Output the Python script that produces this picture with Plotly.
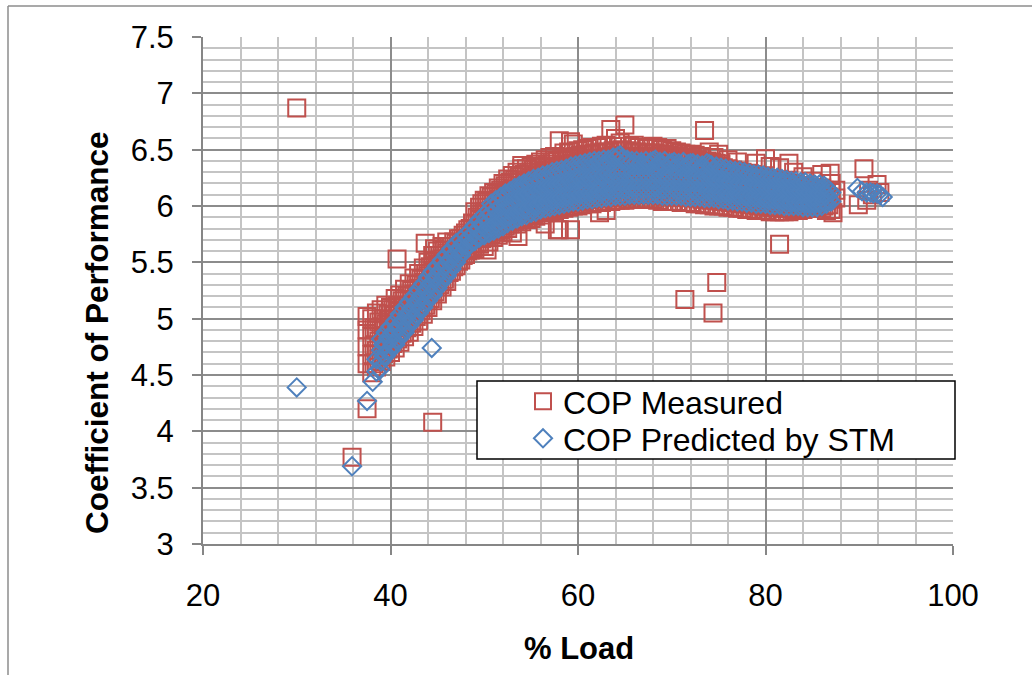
import plotly.graph_objects as go

# ---- COP Measured (% load, COP) : outliers + band, read row by row ----
measured_load = [
    30.0, 35.9, 37.5, 44.5, 40.7, 43.7, 44.7, 71.4, 74.4, 74.8, 81.5,
    50.3, 53.6, 57.8, 59.2, 59.2, 54.0, 62.3, 86.9, 87.2,
    89.9, 90.5, 90.8, 91.0, 91.4, 91.9, 92.2,
    37.5, 37.5, 37.5, 37.5,
    38.0, 38.0, 38.0, 38.0,
    38.5, 38.5, 38.5, 38.5,
    39.0, 39.0, 39.0, 39.0,
    39.5, 39.5, 39.5, 39.5,
    40.0, 40.0, 40.0, 40.0,
    40.5, 40.5, 40.5, 40.5,
    41.0, 41.0, 41.0, 41.0,
    41.5, 41.5, 41.5, 41.5,
    42.0, 42.0, 42.0, 42.0,
    42.5, 42.5, 42.5, 42.5,
    43.0, 43.0, 43.0, 43.0,
    43.5, 43.5, 43.5, 43.5,
    44.0, 44.0, 44.0, 44.0,
    44.5, 44.5, 44.5, 44.5,
    45.0, 45.0, 45.0, 45.0,
    45.5, 45.5, 45.5, 45.5,
    46.0, 46.0, 46.0, 46.0,
    46.5, 46.5, 46.5,
    47.0, 47.0, 47.0,
    47.5, 47.5, 47.5,
    48.0, 48.0, 48.0,
    48.5, 48.5, 48.5,
    49.0, 49.0, 49.0, 49.0,
    49.5, 49.5, 49.5, 49.5,
    50.0, 50.0, 50.0, 50.0, 50.0,
    50.5, 50.5, 50.5, 50.5, 50.5,
    51.0, 51.0, 51.0, 51.0, 51.0,
    51.5, 51.5, 51.5, 51.5, 51.5,
    52.0, 52.0, 52.0, 52.0, 52.0,
    52.5, 52.5, 52.5, 52.5, 52.5,
    53.0, 53.0, 53.0, 53.0, 53.0,
    53.5, 53.5, 53.5, 53.5, 53.5,
    54.0, 54.0, 54.0, 54.0, 54.0,
    54.5, 54.5, 54.5, 54.5, 54.5,
    55.0, 55.0, 55.0, 55.0, 55.0,
    55.5, 55.5, 55.5, 55.5, 55.5,
    56.0, 56.0, 56.0, 56.0, 56.0,
    56.5, 56.5, 56.5, 56.5, 56.5, 56.5,
    57.0, 57.0, 57.0, 57.0, 57.0,
    57.5, 57.5, 57.5, 57.5, 57.5,
    58.0, 58.0, 58.0, 58.0, 58.0, 58.0,
    58.5, 58.5, 58.5, 58.5, 58.5,
    59.0, 59.0, 59.0, 59.0, 59.0,
    59.5, 59.5, 59.5, 59.5, 59.5,
    60.0, 60.0, 60.0, 60.0, 60.0,
    60.5, 60.5, 60.5, 60.5, 60.5,
    61.0, 61.0, 61.0, 61.0, 61.0,
    61.5, 61.5, 61.5, 61.5, 61.5,
    62.0, 62.0, 62.0, 62.0, 62.0,
    62.5, 62.5, 62.5, 62.5, 62.5,
    63.0, 63.0, 63.0, 63.0, 63.0, 63.0,
    63.5, 63.5, 63.5, 63.5, 63.5,
    64.0, 64.0, 64.0, 64.0, 64.0,
    64.5, 64.5, 64.5, 64.5, 64.5,
    65.0, 65.0, 65.0, 65.0, 65.0,
    65.5, 65.5, 65.5, 65.5, 65.5,
    66.0, 66.0, 66.0, 66.0, 66.0,
    66.5, 66.5, 66.5, 66.5, 66.5,
    67.0, 67.0, 67.0, 67.0, 67.0,
    67.5, 67.5, 67.5, 67.5, 67.5,
    68.0, 68.0, 68.0, 68.0, 68.0,
    68.5, 68.5, 68.5, 68.5, 68.5,
    69.0, 69.0, 69.0, 69.0, 69.0,
    69.5, 69.5, 69.5, 69.5, 69.5,
    70.0, 70.0, 70.0, 70.0, 70.0,
    70.5, 70.5, 70.5, 70.5, 70.5,
    71.0, 71.0, 71.0, 71.0, 71.0,
    71.5, 71.5, 71.5, 71.5, 71.5,
    72.0, 72.0, 72.0, 72.0, 72.0,
    72.5, 72.5, 72.5, 72.5, 72.5,
    73.0, 73.0, 73.0, 73.0, 73.0,
    73.5, 73.5, 73.5, 73.5, 73.5,
    74.0, 74.0, 74.0, 74.0, 74.0,
    74.5, 74.5, 74.5, 74.5, 74.5,
    75.0, 75.0, 75.0, 75.0, 75.0,
    75.5, 75.5, 75.5, 75.5,
    76.0, 76.0, 76.0, 76.0, 76.0,
    76.5, 76.5, 76.5, 76.5,
    77.0, 77.0, 77.0, 77.0, 77.0,
    77.5, 77.5, 77.5, 77.5,
    78.0, 78.0, 78.0, 78.0,
    78.5, 78.5, 78.5, 78.5,
    79.0, 79.0, 79.0, 79.0, 79.0,
    79.5, 79.5, 79.5, 79.5,
    80.0, 80.0, 80.0, 80.0, 80.0,
    80.5, 80.5, 80.5, 80.5, 80.5,
    81.0, 81.0, 81.0, 81.0,
    81.5, 81.5, 81.5, 81.5, 81.5,
    82.0, 82.0, 82.0, 82.0,
    82.5, 82.5, 82.5, 82.5, 82.5,
    83.0, 83.0, 83.0, 83.0, 83.0,
    83.5, 83.5, 83.5, 83.5,
    84.0, 84.0, 84.0, 84.0, 84.0,
    84.5, 84.5, 84.5, 84.5,
    85.0, 85.0, 85.0, 85.0, 85.0,
    85.5, 85.5, 85.5, 85.5,
    86.0, 86.0, 86.0, 86.0, 86.0,
    86.5, 86.5, 86.5,
    87.0, 87.0, 87.0, 87.0,
    87.5, 87.5,
]
measured_cop = [
    6.87, 3.77, 4.20, 4.08, 5.53, 5.67, 5.62, 5.17, 5.05, 5.32, 5.66,
    5.61, 5.73, 5.79, 5.79, 6.57, 6.36, 5.94, 6.29, 5.94,
    6.01, 6.33, 6.05, 6.14, 6.10, 6.19, 6.12,
    4.60, 4.75, 4.90, 5.02,
    4.52, 4.68, 4.84, 5.00,
    4.57, 4.72, 4.90, 5.05,
    4.62, 4.76, 4.90, 5.08,
    4.66, 4.80, 4.95, 5.12,
    4.70, 4.84, 4.99, 5.10,
    4.74, 4.88, 5.03, 5.18,
    4.79, 4.93, 5.07, 5.21,
    4.84, 4.98, 5.12, 5.26,
    4.88, 5.02, 5.17, 5.31,
    4.93, 5.08, 5.22, 5.36,
    4.98, 5.12, 5.27, 5.40,
    5.04, 5.18, 5.32, 5.45,
    5.10, 5.24, 5.38, 5.50,
    5.16, 5.30, 5.43, 5.56,
    5.22, 5.35, 5.48, 5.60,
    5.28, 5.40, 5.53, 5.64,
    5.33, 5.46, 5.58, 5.68,
    5.42, 5.53, 5.64,
    5.47, 5.57, 5.67,
    5.52, 5.62, 5.71,
    5.57, 5.66, 5.76,
    5.61, 5.70, 5.80,
    5.62, 5.73, 5.84, 5.95,
    5.66, 5.77, 5.88, 5.99,
    5.64, 5.74, 5.84, 5.95, 6.05,
    5.68, 5.78, 5.88, 5.99, 6.09,
    5.72, 5.82, 5.92, 6.02, 6.12,
    5.74, 5.85, 5.96, 6.06, 6.16,
    5.77, 5.88, 5.99, 6.10, 6.20,
    5.80, 5.91, 6.02, 6.13, 6.24,
    5.76, 5.93, 6.04, 6.15, 6.27,
    5.84, 5.95, 6.06, 6.18, 6.30,
    5.86, 5.97, 6.09, 6.21, 6.33,
    5.88, 5.99, 6.11, 6.23, 6.33,
    5.89, 6.01, 6.13, 6.25, 6.35,
    5.91, 6.02, 6.14, 6.27, 6.37,
    5.92, 6.04, 6.16, 6.29, 6.39,
    5.84, 5.94, 6.06, 6.18, 6.31, 6.41,
    5.95, 6.07, 6.19, 6.32, 6.43,
    5.96, 6.08, 6.21, 6.34, 6.44,
    5.79, 5.97, 6.09, 6.22, 6.35, 6.58,
    5.98, 6.10, 6.23, 6.36, 6.47,
    5.99, 6.11, 6.24, 6.37, 6.48,
    6.00, 6.12, 6.25, 6.38, 6.55,
    6.00, 6.13, 6.26, 6.39, 6.49,
    6.01, 6.14, 6.27, 6.40, 6.50,
    6.02, 6.15, 6.28, 6.41, 6.51,
    6.02, 6.15, 6.28, 6.41, 6.52,
    6.03, 6.16, 6.29, 6.42, 6.52,
    6.03, 6.16, 6.29, 6.42, 6.53,
    5.96, 6.04, 6.17, 6.30, 6.43, 6.54,
    6.04, 6.17, 6.30, 6.44, 6.68,
    6.05, 6.18, 6.31, 6.44, 6.60,
    6.05, 6.18, 6.31, 6.44, 6.56,
    6.05, 6.18, 6.31, 6.44, 6.72,
    6.06, 6.19, 6.32, 6.44, 6.53,
    6.06, 6.19, 6.32, 6.44, 6.54,
    6.06, 6.19, 6.32, 6.44, 6.52,
    6.06, 6.19, 6.32, 6.44, 6.52,
    6.06, 6.19, 6.32, 6.44, 6.51,
    6.06, 6.19, 6.32, 6.44, 6.53,
    6.05, 6.18, 6.31, 6.43, 6.52,
    6.04, 6.18, 6.31, 6.43, 6.50,
    6.04, 6.17, 6.30, 6.42, 6.51,
    6.04, 6.17, 6.30, 6.42, 6.49,
    6.04, 6.16, 6.29, 6.41, 6.48,
    6.03, 6.16, 6.29, 6.41, 6.47,
    6.03, 6.16, 6.28, 6.40, 6.46,
    6.03, 6.15, 6.28, 6.40, 6.46,
    6.02, 6.15, 6.27, 6.39, 6.45,
    6.02, 6.14, 6.27, 6.39, 6.44,
    6.01, 6.14, 6.26, 6.38, 6.67,
    6.01, 6.13, 6.25, 6.37, 6.48,
    6.00, 6.12, 6.24, 6.36, 6.43,
    6.00, 6.12, 6.24, 6.35, 6.46,
    6.00, 6.11, 6.23, 6.34,
    5.99, 6.10, 6.22, 6.33, 6.41,
    5.99, 6.10, 6.21, 6.32,
    5.98, 6.09, 6.20, 6.31, 6.39,
    5.98, 6.08, 6.19, 6.30,
    5.97, 6.07, 6.18, 6.29,
    5.97, 6.07, 6.17, 6.28,
    5.96, 6.06, 6.16, 6.27, 6.38,
    5.96, 6.05, 6.15, 6.26,
    5.96, 6.05, 6.15, 6.25, 6.42,
    5.95, 6.04, 6.14, 6.24, 6.35,
    5.95, 6.04, 6.13, 6.23,
    5.95, 6.03, 6.12, 6.22, 6.34,
    5.95, 6.03, 6.12, 6.21,
    5.95, 6.02, 6.11, 6.20, 6.38,
    5.96, 6.02, 6.10, 6.19, 6.30,
    5.96, 6.02, 6.10, 6.18,
    5.97, 6.03, 6.10, 6.18, 6.26,
    5.98, 6.03, 6.09, 6.17,
    5.98, 6.03, 6.09, 6.16, 6.22,
    5.99, 6.04, 6.10, 6.16,
    5.98, 6.04, 6.10, 6.16, 6.28,
    5.96, 6.05, 6.11,
    5.97, 6.06, 6.12, 6.20,
    6.07, 6.14,
]

# in-between readings of the measured band (quarter-point loads)
measured_load_mid = [
    38.25, 38.25, 38.25, 38.75, 38.75, 38.75, 39.25, 39.25, 39.25,
    39.75, 39.75, 39.75, 40.25, 40.25, 40.25, 40.75, 40.75, 40.75,
    41.25, 41.25, 41.25, 41.75, 41.75, 41.75, 42.25, 42.25, 42.25,
    42.75, 42.75, 42.75, 43.25, 43.25, 43.25, 43.75, 43.75, 43.75,
    44.25, 44.25, 44.25, 44.75, 44.75, 44.75, 45.25, 45.25, 45.25,
    45.75, 45.75, 45.75, 46.25, 46.25, 46.25, 46.75, 46.75, 46.75,
    47.25, 47.25, 47.25, 47.75, 47.75, 47.75, 48.25, 48.25, 48.25,
    48.75, 48.75, 48.75, 49.25, 49.25, 49.25,
    49.75, 49.75, 49.75, 49.75, 50.25, 50.25, 50.25, 50.25,
    50.75, 50.75, 50.75, 50.75, 51.25, 51.25, 51.25, 51.25,
    51.75, 51.75, 51.75, 51.75, 52.25, 52.25, 52.25, 52.25,
    52.75, 52.75, 52.75, 52.75, 53.25, 53.25, 53.25, 53.25,
    53.75, 53.75, 53.75, 53.75, 54.25, 54.25, 54.25, 54.25,
    54.75, 54.75, 54.75, 54.75, 55.25, 55.25, 55.25, 55.25,
    55.75, 55.75, 55.75, 55.75, 56.25, 56.25, 56.25, 56.25,
    56.75, 56.75, 56.75, 56.75, 57.25, 57.25, 57.25, 57.25,
    57.75, 57.75, 57.75, 57.75, 58.25, 58.25, 58.25, 58.25,
    58.75, 58.75, 58.75, 58.75, 59.25, 59.25, 59.25, 59.25,
    59.75, 59.75, 59.75, 59.75, 60.25, 60.25, 60.25, 60.25,
    60.75, 60.75, 60.75, 60.75, 61.25, 61.25, 61.25, 61.25,
    61.75, 61.75, 61.75, 61.75, 62.25, 62.25, 62.25, 62.25,
    62.75, 62.75, 62.75, 62.75, 63.25, 63.25, 63.25, 63.25,
    63.75, 63.75, 63.75, 63.75, 64.25, 64.25, 64.25, 64.25,
    64.75, 64.75, 64.75, 64.75, 65.25, 65.25, 65.25, 65.25,
    65.75, 65.75, 65.75, 65.75, 66.25, 66.25, 66.25, 66.25,
    66.75, 66.75, 66.75, 66.75, 67.25, 67.25, 67.25, 67.25,
    67.75, 67.75, 67.75, 67.75, 68.25, 68.25, 68.25, 68.25,
    68.75, 68.75, 68.75, 68.75, 69.25, 69.25, 69.25, 69.25,
    69.75, 69.75, 69.75, 69.75, 70.25, 70.25, 70.25, 70.25,
    70.75, 70.75, 70.75, 70.75, 71.25, 71.25, 71.25, 71.25,
    71.75, 71.75, 71.75, 71.75, 72.25, 72.25, 72.25, 72.25,
    72.75, 72.75, 72.75, 72.75, 73.25, 73.25, 73.25, 73.25,
    73.75, 73.75, 73.75, 73.75, 74.25, 74.25, 74.25, 74.25,
    74.75, 74.75, 74.75, 74.75, 75.25, 75.25, 75.25, 75.25,
    75.75, 75.75, 75.75, 76.25, 76.25, 76.25, 76.75, 76.75, 76.75,
    77.25, 77.25, 77.25, 77.75, 77.75, 77.75, 78.25, 78.25, 78.25,
    78.75, 78.75, 78.75, 79.25, 79.25, 79.25, 79.75, 79.75, 79.75,
    80.25, 80.25, 80.25, 80.75, 80.75, 80.75, 81.25, 81.25, 81.25,
    81.75, 81.75, 81.75, 82.25, 82.25, 82.25, 82.75, 82.75, 82.75,
    83.25, 83.25, 83.25, 83.75, 83.75, 83.75, 84.25, 84.25, 84.25,
    84.75, 84.75, 84.75, 85.25, 85.25, 85.25, 85.75, 85.75, 85.75,
    86.25, 86.25, 86.25, 86.75, 86.75,
]
measured_cop_mid = [
    4.60, 4.76, 4.92, 4.64, 4.80, 4.97, 4.69, 4.84, 5.00,
    4.73, 4.88, 5.04, 4.78, 4.92, 5.08, 4.82, 4.96, 5.12,
    4.87, 5.01, 5.16, 4.92, 5.06, 5.20, 4.96, 5.10, 5.25,
    5.02, 5.16, 5.30, 5.07, 5.21, 5.35, 5.12, 5.26, 5.40,
    5.18, 5.32, 5.46, 5.24, 5.38, 5.51, 5.30, 5.43, 5.56,
    5.35, 5.48, 5.61, 5.41, 5.53, 5.64, 5.46, 5.57, 5.68,
    5.51, 5.61, 5.71, 5.56, 5.65, 5.74, 5.60, 5.70, 5.79,
    5.63, 5.74, 5.85, 5.67, 5.78, 5.90,
    5.71, 5.82, 5.93, 6.02, 5.72, 5.82, 5.93, 6.04,
    5.75, 5.85, 5.96, 6.08, 5.77, 5.88, 5.99, 6.11,
    5.79, 5.91, 6.03, 6.14, 5.82, 5.94, 6.06, 6.18,
    5.84, 5.96, 6.08, 6.21, 5.86, 5.98, 6.10, 6.23,
    5.88, 6.00, 6.13, 6.26, 5.90, 6.02, 6.15, 6.28,
    5.92, 6.04, 6.17, 6.30, 5.93, 6.06, 6.19, 6.32,
    5.95, 6.08, 6.21, 6.34, 5.96, 6.09, 6.22, 6.35,
    5.98, 6.11, 6.24, 6.37, 5.99, 6.12, 6.25, 6.39,
    6.00, 6.13, 6.27, 6.40, 6.01, 6.14, 6.28, 6.41,
    6.02, 6.15, 6.29, 6.42, 6.03, 6.16, 6.30, 6.43,
    6.04, 6.17, 6.31, 6.44, 6.04, 6.18, 6.32, 6.45,
    6.05, 6.19, 6.33, 6.46, 6.06, 6.19, 6.33, 6.46,
    6.06, 6.20, 6.34, 6.47, 6.07, 6.21, 6.35, 6.47,
    6.07, 6.21, 6.35, 6.48, 6.08, 6.22, 6.36, 6.48,
    6.08, 6.22, 6.36, 6.49, 6.09, 6.23, 6.37, 6.49,
    6.09, 6.23, 6.37, 6.50, 6.09, 6.23, 6.37, 6.49,
    6.10, 6.24, 6.37, 6.48, 6.10, 6.24, 6.37, 6.48,
    6.10, 6.24, 6.37, 6.47, 6.10, 6.24, 6.37, 6.47,
    6.10, 6.24, 6.37, 6.47, 6.10, 6.23, 6.36, 6.47,
    6.09, 6.23, 6.36, 6.46, 6.09, 6.23, 6.36, 6.46,
    6.09, 6.22, 6.35, 6.45, 6.09, 6.22, 6.35, 6.44,
    6.08, 6.22, 6.34, 6.44, 6.08, 6.21, 6.34, 6.43,
    6.08, 6.21, 6.33, 6.42, 6.07, 6.20, 6.33, 6.42,
    6.07, 6.20, 6.32, 6.41, 6.06, 6.19, 6.31, 6.40,
    6.06, 6.19, 6.31, 6.40, 6.05, 6.18, 6.30, 6.39,
    6.05, 6.17, 6.29, 6.38, 6.04, 6.16, 6.28, 6.37,
    6.04, 6.16, 6.27, 6.03, 6.15, 6.27, 6.03, 6.14, 6.26,
    6.02, 6.14, 6.25, 6.02, 6.13, 6.24, 6.01, 6.12, 6.23,
    6.01, 6.12, 6.22, 6.00, 6.11, 6.21, 6.00, 6.10, 6.20,
    5.99, 6.09, 6.19, 5.99, 6.08, 6.18, 5.99, 6.08, 6.17,
    5.98, 6.07, 6.16, 5.98, 6.07, 6.16, 5.98, 6.06, 6.15,
    5.98, 6.06, 6.14, 5.98, 6.06, 6.14, 5.99, 6.06, 6.13,
    5.99, 6.06, 6.13, 5.99, 6.06, 6.13, 6.00, 6.07, 6.13,
    6.00, 6.07, 6.14, 6.01, 6.08,
]

# ---- COP Predicted by STM (% load, COP) ----
predicted_load = [
    30.0, 35.9, 37.5, 44.4,
    38.1, 38.5, 38.5, 38.9,
    39.0, 39.0, 39.0,
    39.5, 39.5, 39.5,
    40.0, 40.0, 40.0,
    40.5, 40.5, 40.5,
    41.0, 41.0, 41.0,
    41.5, 41.5, 41.5,
    42.0, 42.0, 42.0,
    42.5, 42.5, 42.5,
    43.0, 43.0, 43.0,
    43.5, 43.5, 43.5,
    44.0, 44.0, 44.0,
    44.5, 44.5, 44.5,
    45.0, 45.0, 45.0,
    45.5, 45.5, 45.5,
    46.0, 46.0, 46.0,
    46.5, 46.5, 46.5,
    47.0, 47.0, 47.0,
    47.5, 47.5, 47.5,
    48.0, 48.0, 48.0,
    48.5, 48.5, 48.5,
    49.0, 49.0, 49.0,
    49.5, 49.5, 49.5,
    50.0, 50.0, 50.0,
    50.5, 50.5, 50.5,
    51.0, 51.0, 51.0,
    51.5, 51.5, 51.5,
    52.0, 52.0, 52.0,
    52.5, 52.5, 52.5,
    53.0, 53.0, 53.0,
    53.5, 53.5, 53.5,
    54.0, 54.0, 54.0,
    54.5, 54.5, 54.5,
    55.0, 55.0, 55.0,
    55.5, 55.5, 55.5,
    56.0, 56.0, 56.0,
    56.5, 56.5, 56.5,
    57.0, 57.0, 57.0,
    57.5, 57.5, 57.5,
    58.0, 58.0, 58.0,
    58.5, 58.5, 58.5,
    59.0, 59.0, 59.0,
    59.5, 59.5, 59.5,
    60.0, 60.0, 60.0,
    60.5, 60.5, 60.5,
    61.0, 61.0, 61.0,
    61.5, 61.5, 61.5,
    62.0, 62.0, 62.0,
    62.5, 62.5, 62.5,
    63.0, 63.0, 63.0,
    63.5, 63.5, 63.5,
    64.0, 64.0, 64.0,
    64.5, 64.5, 64.5,
    65.0, 65.0, 65.0,
    65.5, 65.5, 65.5,
    66.0, 66.0, 66.0,
    66.5, 66.5, 66.5,
    67.0, 67.0, 67.0,
    67.5, 67.5, 67.5,
    68.0, 68.0, 68.0,
    68.5, 68.5, 68.5,
    69.0, 69.0, 69.0,
    69.5, 69.5, 69.5,
    70.0, 70.0, 70.0,
    70.5, 70.5, 70.5,
    71.0, 71.0, 71.0,
    71.5, 71.5, 71.5,
    72.0, 72.0, 72.0,
    72.5, 72.5, 72.5,
    73.0, 73.0, 73.0,
    73.5, 73.5, 73.5,
    74.0, 74.0, 74.0,
    74.5, 74.5, 74.5,
    75.0, 75.0, 75.0,
    75.5, 75.5, 75.5,
    76.0, 76.0, 76.0,
    76.5, 76.5, 76.5,
    77.0, 77.0, 77.0,
    77.5, 77.5, 77.5,
    78.0, 78.0, 78.0,
    78.5, 78.5, 78.5,
    79.0, 79.0, 79.0,
    79.5, 79.5, 79.5,
    80.0, 80.0, 80.0,
    80.5, 80.5, 80.5,
    81.0, 81.0, 81.0,
    81.5, 81.5, 81.5,
    82.0, 82.0, 82.0,
    82.5, 82.5, 82.5,
    83.0, 83.0, 83.0,
    83.5, 83.5, 83.5,
    84.0, 84.0, 84.0,
    84.5, 84.5, 84.5,
    85.0, 85.0, 85.0,
    85.5, 85.5, 85.5,
    86.0, 86.0, 86.0,
    86.5, 86.5, 86.5,
    87.0, 87.0,
    89.8, 90.3, 90.8, 91.2, 91.5, 91.9, 92.2, 92.5,
]
predicted_cop = [
    4.39, 3.69, 4.27, 4.74,
    4.44, 4.53, 4.64, 4.55,
    4.62, 4.72, 4.82,
    4.67, 4.77, 4.88,
    4.72, 4.82, 4.93,
    4.77, 4.88, 4.98,
    4.83, 4.93, 5.04,
    4.88, 4.99, 5.10,
    4.94, 5.04, 5.15,
    4.99, 5.10, 5.20,
    5.05, 5.15, 5.26,
    5.10, 5.21, 5.31,
    5.16, 5.26, 5.37,
    5.21, 5.32, 5.42,
    5.27, 5.37, 5.47,
    5.33, 5.43, 5.52,
    5.38, 5.48, 5.57,
    5.44, 5.53, 5.62,
    5.50, 5.58, 5.67,
    5.56, 5.63, 5.70,
    5.62, 5.68, 5.74,
    5.66, 5.72, 5.78,
    5.69, 5.76, 5.83,
    5.72, 5.80, 5.88,
    5.74, 5.83, 5.92,
    5.76, 5.86, 5.96,
    5.78, 5.89, 6.00,
    5.80, 5.92, 6.03,
    5.82, 5.94, 6.06,
    5.85, 5.97, 6.09,
    5.87, 5.99, 6.11,
    5.89, 6.01, 6.13,
    5.91, 6.03, 6.15,
    5.92, 6.04, 6.17,
    5.94, 6.06, 6.19,
    5.95, 6.08, 6.20,
    5.97, 6.09, 6.22,
    5.98, 6.10, 6.23,
    5.99, 6.12, 6.25,
    6.00, 6.13, 6.26,
    6.01, 6.14, 6.27,
    6.02, 6.15, 6.28,
    6.03, 6.16, 6.30,
    6.04, 6.17, 6.31,
    6.04, 6.17, 6.32,
    6.05, 6.18, 6.33,
    6.06, 6.19, 6.33,
    6.06, 6.19, 6.34,
    6.07, 6.20, 6.36,
    6.07, 6.20, 6.35,
    6.08, 6.21, 6.36,
    6.08, 6.21, 6.38,
    6.09, 6.22, 6.42,
    6.09, 6.22, 6.45,
    6.09, 6.22, 6.40,
    6.10, 6.23, 6.37,
    6.10, 6.23, 6.37,
    6.10, 6.23, 6.36,
    6.10, 6.23, 6.36,
    6.10, 6.23, 6.36,
    6.10, 6.23, 6.40,
    6.10, 6.22, 6.35,
    6.09, 6.22, 6.36,
    6.09, 6.22, 6.34,
    6.09, 6.22, 6.38,
    6.09, 6.22, 6.34,
    6.09, 6.22, 6.35,
    6.08, 6.21, 6.34,
    6.08, 6.21, 6.38,
    6.08, 6.21, 6.34,
    6.08, 6.21, 6.33,
    6.07, 6.20, 6.33,
    6.07, 6.20, 6.37,
    6.07, 6.19, 6.31,
    6.06, 6.19, 6.30,
    6.06, 6.18, 6.30,
    6.05, 6.18, 6.29,
    6.05, 6.17, 6.28,
    6.04, 6.17, 6.28,
    6.04, 6.16, 6.27,
    6.03, 6.16, 6.26,
    6.03, 6.15, 6.25,
    6.02, 6.15, 6.25,
    6.02, 6.14, 6.24,
    6.02, 6.14, 6.23,
    6.01, 6.13, 6.23,
    6.01, 6.13, 6.22,
    6.01, 6.12, 6.21,
    6.00, 6.12, 6.21,
    6.00, 6.11, 6.20,
    6.00, 6.11, 6.19,
    6.00, 6.10, 6.19,
    5.99, 6.10, 6.18,
    5.99, 6.09, 6.18,
    5.99, 6.09, 6.17,
    5.99, 6.08, 6.16,
    6.00, 6.08, 6.15,
    6.02, 6.10, 6.16,
    6.04, 6.12,
    6.16, 6.13, 6.12, 6.12, 6.11, 6.11, 6.10, 6.08,
]

# in-between readings of the predicted band (quarter-point loads)
predicted_load_mid = [
    39.25, 39.25, 39.75, 39.75, 40.25, 40.25, 40.75, 40.75,
    41.25, 41.25, 41.75, 41.75, 42.25, 42.25, 42.75, 42.75,
    43.25, 43.25, 43.75, 43.75, 44.25, 44.25, 44.75, 44.75,
    45.25, 45.25, 45.75, 45.75, 46.25, 46.25, 46.75, 46.75,
    47.25, 47.25, 47.75, 47.75, 48.25, 48.25, 48.75, 48.75,
    49.25, 49.25, 49.75, 49.75, 50.25, 50.25,
    50.75, 50.75, 50.75, 51.25, 51.25, 51.25, 51.75, 51.75, 51.75,
    52.25, 52.25, 52.25, 52.75, 52.75, 52.75, 53.25, 53.25, 53.25,
    53.75, 53.75, 53.75, 54.25, 54.25, 54.25, 54.75, 54.75, 54.75,
    55.25, 55.25, 55.25, 55.75, 55.75, 55.75, 56.25, 56.25, 56.25,
    56.75, 56.75, 56.75, 57.25, 57.25, 57.25, 57.75, 57.75, 57.75,
    58.25, 58.25, 58.25, 58.75, 58.75, 58.75, 59.25, 59.25, 59.25,
    59.75, 59.75, 59.75, 60.25, 60.25, 60.25, 60.75, 60.75, 60.75,
    61.25, 61.25, 61.25, 61.75, 61.75, 61.75, 62.25, 62.25, 62.25,
    62.75, 62.75, 62.75, 63.25, 63.25, 63.25, 63.75, 63.75, 63.75,
    64.25, 64.25, 64.25, 64.75, 64.75, 64.75, 65.25, 65.25, 65.25,
    65.75, 65.75, 65.75, 66.25, 66.25, 66.25, 66.75, 66.75, 66.75,
    67.25, 67.25, 67.25, 67.75, 67.75, 67.75, 68.25, 68.25, 68.25,
    68.75, 68.75, 68.75, 69.25, 69.25, 69.25, 69.75, 69.75, 69.75,
    70.25, 70.25, 70.25, 70.75, 70.75, 70.75, 71.25, 71.25, 71.25,
    71.75, 71.75, 71.75, 72.25, 72.25, 72.25, 72.75, 72.75, 72.75,
    73.25, 73.25, 73.25, 73.75, 73.75, 73.75, 74.25, 74.25, 74.25,
    74.75, 74.75, 74.75, 75.25, 75.25, 75.25, 75.75, 75.75, 75.75,
    76.25, 76.25, 76.25, 76.75, 76.75, 76.75, 77.25, 77.25, 77.25,
    77.75, 77.75, 77.75, 78.25, 78.25, 78.25, 78.75, 78.75, 78.75,
    79.25, 79.25, 79.25, 79.75, 79.75, 79.75, 80.25, 80.25, 80.25,
    80.75, 80.75, 80.75, 81.25, 81.25, 81.25, 81.75, 81.75, 81.75,
    82.25, 82.25, 82.25, 82.75, 82.75, 82.75, 83.25, 83.25, 83.25,
    83.75, 83.75, 83.75, 84.25, 84.25, 84.25, 84.75, 84.75, 84.75,
    85.25, 85.25, 85.25, 85.75, 85.75, 85.75, 86.25, 86.25, 86.25,
    86.75, 86.75,
]
predicted_cop_mid = [
    4.67, 4.77, 4.72, 4.83, 4.77, 4.88, 4.82, 4.93,
    4.88, 4.98, 4.93, 5.04, 4.99, 5.09, 5.04, 5.15,
    5.10, 5.20, 5.15, 5.26, 5.21, 5.31, 5.26, 5.37,
    5.32, 5.42, 5.38, 5.47, 5.43, 5.52, 5.49, 5.57,
    5.55, 5.62, 5.60, 5.67, 5.65, 5.71, 5.69, 5.75,
    5.72, 5.79, 5.76, 5.84, 5.79, 5.90,
    5.81, 5.93, 6.02, 5.84, 5.96, 6.05, 5.87, 5.99, 6.08,
    5.89, 6.01, 6.11, 5.91, 6.04, 6.13, 5.93, 6.06, 6.16,
    5.95, 6.08, 6.18, 5.97, 6.10, 6.20, 5.98, 6.11, 6.22,
    6.00, 6.13, 6.24, 6.01, 6.14, 6.25, 6.03, 6.16, 6.27,
    6.04, 6.17, 6.28, 6.05, 6.18, 6.30, 6.06, 6.19, 6.31,
    6.07, 6.20, 6.32, 6.08, 6.21, 6.33, 6.09, 6.22, 6.35,
    6.10, 6.23, 6.36, 6.10, 6.24, 6.37, 6.11, 6.25, 6.38,
    6.12, 6.25, 6.39, 6.12, 6.26, 6.40, 6.13, 6.27, 6.40,
    6.13, 6.27, 6.41, 6.14, 6.28, 6.41, 6.14, 6.28, 6.43,
    6.15, 6.28, 6.44, 6.15, 6.29, 6.42, 6.15, 6.29, 6.41,
    6.16, 6.29, 6.40, 6.16, 6.29, 6.40, 6.16, 6.29, 6.39,
    6.16, 6.29, 6.40, 6.16, 6.29, 6.39, 6.16, 6.29, 6.41,
    6.15, 6.28, 6.39, 6.15, 6.28, 6.40, 6.15, 6.28, 6.38,
    6.15, 6.28, 6.39, 6.14, 6.27, 6.38, 6.14, 6.27, 6.39,
    6.14, 6.27, 6.37, 6.14, 6.27, 6.38, 6.13, 6.26, 6.37,
    6.13, 6.26, 6.36, 6.13, 6.26, 6.38, 6.12, 6.25, 6.36,
    6.12, 6.24, 6.35, 6.11, 6.24, 6.34, 6.11, 6.23, 6.33,
    6.10, 6.22, 6.32, 6.10, 6.21, 6.31, 6.09, 6.21, 6.31,
    6.09, 6.20, 6.30, 6.08, 6.19, 6.29, 6.08, 6.19, 6.28,
    6.07, 6.18, 6.28, 6.07, 6.17, 6.27, 6.06, 6.17, 6.26,
    6.06, 6.16, 6.25, 6.06, 6.16, 6.25, 6.05, 6.15, 6.24,
    6.05, 6.15, 6.23, 6.04, 6.14, 6.22, 6.04, 6.14, 6.22,
    6.04, 6.13, 6.21, 6.03, 6.13, 6.21, 6.03, 6.12, 6.20,
    6.03, 6.12, 6.19, 6.03, 6.11, 6.19, 6.04, 6.11, 6.18,
    6.06, 6.14,
]

x_ticks = [20, 40, 60, 80, 100]
y_ticks = [3, 3.5, 4, 4.5, 5, 5.5, 6, 6.5, 7, 7.5]

RED = "#C0504D"
BLUE = "#4F81BD"
FONT = "Arial, 'Liberation Sans', sans-serif"

fig = go.Figure()
fig.add_trace(go.Scatter(
    x=measured_load + measured_load_mid, y=measured_cop + measured_cop_mid,
    mode="markers", name="COP Measured", legend="legend",
    marker=dict(symbol="square-open", size=17, color=RED, line=dict(width=2, color=RED)),
))
fig.add_trace(go.Scatter(
    x=predicted_load + predicted_load_mid, y=predicted_cop + predicted_cop_mid,
    mode="markers", name="COP Predicted by STM", legend="legend2",
    marker=dict(symbol="diamond-open", size=14, color=BLUE, line=dict(width=2, color=BLUE)),
))

# plot area geometry (pixels) used to place frame / legend box / titles in paper coords
L, R, T, B = 203, 953, 37, 544
W, H = R - L, B - T
def px(x):
    return (x - L) / W
def py(y):
    return (B - y) / H

legend_common = dict(
    x=px(523), xanchor="left", yanchor="top",
    bgcolor="rgba(0,0,0,0)", borderwidth=0,
    font=dict(family=FONT, size=32, color="black"),
    itemsizing="trace",
)

fig.update_layout(
    width=1032, height=675,
    margin=dict(l=L, r=1032 - R, t=T, b=675 - B),
    plot_bgcolor="white", paper_bgcolor="white",
    font=dict(family=FONT, size=31, color="black"),
    showlegend=True,
    legend=dict(y=py(374), **legend_common),
    legend2=dict(y=py(411), **legend_common),
    shapes=[
        dict(type="rect", xref="paper", yref="paper",
             x0=px(477), x1=px(955), y0=py(459), y1=py(381),
             fillcolor="white", line=dict(color="black", width=1.5), layer="above"),
        dict(type="line", xref="paper", yref="paper",
             x0=px(8), x1=px(1040), y0=py(6), y1=py(6),
             line=dict(color="#8c8c8c", width=1.5)),
        dict(type="line", xref="paper", yref="paper",
             x0=px(8), x1=px(8), y0=py(6), y1=py(700),
             line=dict(color="#8c8c8c", width=1.5)),
    ],
    annotations=[
        dict(text="<b>Coefficient of Performance</b>", xref="paper", yref="paper",
             x=px(97), y=py(333), xanchor="center", yanchor="middle", textangle=-90,
             showarrow=False, font=dict(family=FONT, size=31.5, color="black")),
        dict(text="<b>% Load</b>", xref="paper", yref="paper",
             x=px(579), y=py(648), xanchor="center", yanchor="middle",
             showarrow=False, font=dict(family=FONT, size=31, color="black")),
    ],
)

fig.update_xaxes(
    range=[20, 100], tickmode="array", tickvals=x_ticks, ticktext=[str(v) for v in x_ticks],
    ticks="outside", ticklen=9, tickwidth=2, tickcolor="#868686",
    showline=True, linecolor="#868686", linewidth=2,
    showgrid=True, gridcolor="#8c8c8c", gridwidth=1.5,
    minor=dict(dtick=4, tick0=20, showgrid=True, gridcolor="#c4c4c4", gridwidth=1.5, ticks=""),
    zeroline=False,
    tickfont=dict(size=31),
    ticklabelstandoff=14,
)
fig.update_yaxes(
    range=[3, 7.5], tickmode="array", tickvals=y_ticks, ticktext=[f"{v:g}" for v in y_ticks],
    ticks="outside", ticklen=9, tickwidth=2, tickcolor="#868686",
    showline=True, linecolor="#868686", linewidth=2,
    showgrid=True, gridcolor="#8c8c8c", gridwidth=1.5,
    minor=dict(dtick=0.1, tick0=3, showgrid=True, gridcolor="#c4c4c4", gridwidth=1.5, ticks=""),
    zeroline=False,
    tickfont=dict(size=31),
    ticklabelstandoff=12,
)

fig.write_html("out.html")
